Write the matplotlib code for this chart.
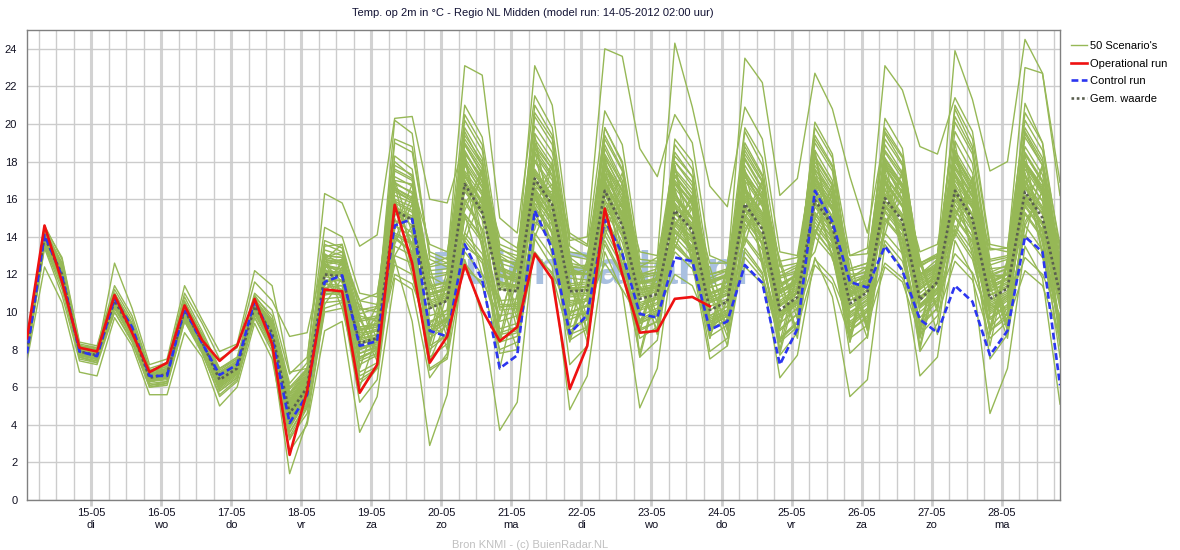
import numpy as np
import pandas as pd
import matplotlib
matplotlib.use('Agg')
import matplotlib.pyplot as plt
import matplotlib.dates as mdates
from matplotlib.lines import Line2D

plt.rcParams['font.family'] = ['Liberation Sans', 'DejaVu Sans']

# 6-hourly steps from the model run
times = pd.date_range('2012-05-14 02:00', periods=60, freq='6h')

day_labels = ['15-05\ndi', '16-05\nwo', '17-05\ndo', '18-05\nvr', '19-05\nza',
              '20-05\nzo', '21-05\nma', '22-05\ndi', '23-05\nwo', '24-05\ndo',
              '25-05\nvr', '26-05\nza', '27-05\nzo', '28-05\nma']
day_ticks = pd.date_range('2012-05-15', periods=14, freq='D')

# Operational run (stops after 10 days)
operational = [8.6, 14.6, 11.6, 8.1, 7.9, 10.9, 8.9, 6.8, 7.3, 10.35, 8.5, 7.4, 8.2, 10.7, 8.3, 2.4, 5.8,
               11.2, 11.1, 5.7, 7.2, 15.7, 12.6, 7.3, 8.7, 12.5, 10.1, 8.45, 9.2, 13.1, 11.75, 5.9, 8.2,
               15.5, 12.0, 8.9, 9.0, 10.7, 10.8, 10.3]

control = [7.8, 14.1, 11.9, 7.9, 7.65, 10.7, 9.2, 6.6, 6.6, 10.2, 8.35, 6.65, 7.2, 10.6, 8.6, 4.1, 5.6,
           11.6, 11.95, 8.2, 8.45, 14.6, 14.95, 9.0, 8.7, 13.6, 11.7, 7.0, 7.7, 15.4, 13.35, 8.85, 9.85,
           14.9, 13.1, 9.9, 9.7, 12.9, 12.7, 9.05, 9.5, 12.5, 11.55, 7.2, 9.1, 16.45, 14.8, 11.6, 11.3,
           13.5, 12.2, 9.6, 8.9, 11.4, 10.55, 7.7, 9.0, 14.0, 13.2, 6.1]

ens_mean = [8.0, 14.0, 12.0, 7.9, 7.7, 10.6, 9.0, 6.5, 6.7, 10.1, 8.4, 6.4, 7.0, 10.3, 8.9, 4.6, 6.0,
            12.0, 11.9, 8.35, 8.6, 15.4, 14.9, 10.2, 10.6, 16.8, 15.3, 11.2, 11.1, 17.1, 15.7, 11.1, 11.15,
            16.45, 14.6, 10.7, 10.95, 15.4, 14.35, 10.1, 10.55, 15.75, 14.4, 10.1, 10.8, 15.95, 14.6, 10.45,
            11.05, 16.05, 14.85, 10.65, 11.6, 16.45, 14.95, 10.7, 11.25, 16.4, 15.0, 10.95]

# 50 ensemble members
scenarios = [
    [8.1, 14.2, 12.3, 8.0, 7.8, 10.8, 9.2, 6.6, 6.9, 10.3, 8.6, 6.7, 7.2, 10.5, 9.0, 5.0, 6.3,
     12.4, 12.3, 8.9, 9.0, 16.0, 15.6, 10.8, 11.0, 17.5, 16.2, 11.6, 11.4, 18.0, 16.5, 11.8, 11.7,
     17.2, 15.5, 11.2, 11.4, 16.3, 15.0, 10.7, 11.2, 16.6, 15.3, 10.8, 11.4, 16.8, 15.4, 11.0, 11.6,
     17.0, 15.6, 11.3, 12.0, 17.3, 15.8, 11.2, 11.8, 17.2, 15.9, 11.5],
    [7.8, 13.8, 11.6, 7.7, 7.5, 10.3, 8.8, 6.3, 6.5, 9.8, 8.1, 6.0, 6.7, 10.0, 8.4, 3.8, 5.4,
     11.1, 11.0, 7.2, 7.7, 13.9, 13.2, 8.6, 9.3, 14.2, 13.1, 9.5, 9.8, 15.0, 13.6, 9.8, 10.0,
     14.1, 12.4, 9.4, 9.9, 13.5, 12.6, 9.1, 9.6, 13.2, 12.0, 8.6, 9.5, 14.0, 12.9, 9.3, 10.1,
     13.8, 12.7, 9.5, 10.6, 14.2, 12.8, 9.2, 10.2, 14.1, 12.9, 9.6],
    [8.3, 14.3, 12.6, 8.1, 7.9, 11.0, 9.4, 6.7, 7.0, 10.6, 8.8, 6.8, 7.4, 10.9, 9.6, 5.9, 6.9,
     13.6, 13.2, 9.8, 9.5, 18.3, 17.6, 11.9, 11.4, 20.5, 18.9, 12.3, 11.8, 21.0, 19.4, 12.9, 12.2,
     19.8, 17.9, 11.6, 11.5, 18.9, 17.6, 11.0, 11.3, 19.6, 17.8, 11.2, 11.6, 20.1, 18.4, 11.6, 11.8,
     20.3, 18.7, 12.0, 12.4, 20.8, 18.8, 11.8, 12.0, 21.1, 19.0, 12.4],
    [7.6, 13.5, 11.2, 7.6, 7.4, 10.0, 8.5, 6.0, 6.2, 9.5, 7.9, 5.5, 6.3, 9.7, 7.9, 1.4, 4.2,
     10.2, 10.5, 6.4, 7.0, 14.6, 14.0, 9.4, 10.1, 16.0, 14.4, 10.2, 10.5, 16.5, 15.1, 10.9, 11.0,
     17.9, 16.2, 11.5, 11.8, 16.8, 15.4, 10.6, 11.0, 14.9, 13.6, 9.4, 10.2, 15.2, 13.9, 9.9, 10.7,
     17.3, 16.0, 11.5, 12.1, 17.6, 16.1, 11.1, 11.6, 15.9, 14.6, 10.2],
    [8.2, 14.1, 12.2, 8.2, 8.0, 10.9, 9.3, 6.8, 7.1, 10.4, 8.7, 6.9, 7.5, 10.8, 9.8, 6.2, 7.3,
     16.3, 15.8, 13.5, 14.1, 20.3, 20.4, 16.0, 15.8, 19.0, 17.6, 13.0, 12.4, 18.4, 17.0, 12.2, 12.0,
     15.8, 14.0, 10.3, 10.7, 14.2, 13.4, 9.8, 10.3, 16.2, 14.9, 10.4, 11.0, 17.4, 16.0, 11.2, 11.6,
     15.4, 14.3, 10.3, 11.2, 15.1, 13.8, 10.1, 10.8, 17.8, 16.3, 11.4],
    [8.0, 14.0, 11.9, 7.9, 7.7, 10.5, 8.9, 6.4, 6.6, 10.0, 8.3, 6.2, 6.9, 10.2, 8.6, 4.0, 5.7,
     11.5, 11.2, 7.5, 8.0, 12.8, 9.5, 2.9, 5.6, 13.5, 12.8, 8.8, 9.0, 14.8, 13.9, 9.9, 10.4,
     16.9, 15.3, 11.0, 11.2, 17.3, 16.1, 11.3, 11.6, 15.2, 14.0, 10.0, 10.5, 14.4, 13.1, 9.0, 9.8,
     16.5, 15.2, 10.8, 11.6, 18.0, 16.4, 11.9, 12.0, 16.7, 15.4, 11.2],
    [8.1, 14.2, 12.1, 8.0, 7.8, 10.7, 9.1, 6.6, 6.8, 10.2, 8.5, 6.5, 7.1, 10.4, 9.0, 4.8, 6.2,
     12.8, 12.6, 9.0, 9.4, 17.2, 16.7, 11.8, 12.0, 19.4, 18.0, 13.6, 13.2, 19.9, 18.5, 13.8, 14.0,
     24.0, 23.6, 18.7, 17.2, 20.5, 19.0, 13.0, 12.6, 18.1, 16.5, 11.5, 11.9, 17.0, 15.6, 11.0, 11.5,
     18.2, 16.8, 12.0, 12.6, 17.4, 15.9, 11.4, 11.8, 18.8, 17.3, 12.6],
    [7.9, 13.9, 12.0, 7.8, 7.6, 10.6, 9.0, 6.5, 6.7, 10.1, 8.4, 6.4, 7.0, 10.2, 8.8, 4.5, 5.9,
     12.1, 12.0, 8.3, 8.5, 16.2, 15.8, 10.9, 11.2, 17.8, 16.4, 11.9, 11.7, 18.5, 17.2, 12.0, 12.3,
     19.2, 17.5, 12.4, 12.9, 24.3, 20.9, 16.7, 15.6, 20.9, 19.2, 13.2, 13.0, 18.6, 17.0, 12.0, 12.1,
     17.0, 15.7, 11.2, 12.0, 19.1, 17.4, 12.3, 12.4, 17.6, 16.2, 11.8],
    [8.2, 14.4, 12.4, 8.1, 7.9, 10.8, 9.2, 6.7, 6.9, 10.5, 8.7, 6.7, 7.3, 10.7, 9.3, 5.3, 6.6,
     13.0, 12.9, 9.6, 9.8, 16.8, 16.4, 11.3, 11.6, 18.9, 17.4, 12.6, 12.3, 19.5, 18.1, 12.6, 12.4,
     18.4, 16.8, 11.9, 12.1, 17.6, 16.5, 11.8, 12.2, 23.5, 22.2, 16.2, 17.1, 22.7, 20.8, 17.2, 14.2,
     19.5, 17.9, 12.5, 12.9, 18.4, 16.8, 11.9, 12.3, 19.8, 18.2, 13.0],
    [8.0, 13.9, 12.1, 7.9, 7.7, 10.6, 9.1, 6.6, 6.8, 10.2, 8.5, 6.6, 7.2, 10.4, 9.1, 5.0, 6.4,
     12.5, 12.3, 8.8, 9.1, 15.9, 15.4, 10.6, 11.0, 17.3, 15.8, 11.6, 11.4, 17.6, 16.2, 11.5, 11.6,
     17.0, 15.2, 11.1, 11.4, 16.1, 15.0, 10.6, 11.0, 17.5, 16.0, 11.3, 12.0, 19.8, 18.2, 13.0, 13.4,
     23.1, 21.8, 18.8, 18.4, 21.4, 19.6, 13.6, 13.4, 20.2, 18.6, 13.6],
    [8.1, 14.1, 12.2, 8.0, 7.8, 10.7, 9.1, 6.5, 6.7, 10.1, 8.4, 6.5, 7.1, 10.3, 8.9, 4.7, 6.1,
     12.2, 12.1, 8.6, 8.8, 15.6, 15.1, 10.4, 10.8, 17.0, 15.5, 11.4, 11.3, 17.3, 15.9, 11.3, 11.3,
     16.6, 14.8, 10.8, 11.1, 15.6, 14.5, 10.3, 10.7, 16.0, 14.7, 10.3, 11.0, 16.8, 15.4, 10.9, 11.4,
     18.6, 17.3, 12.4, 13.0, 23.9, 21.3, 17.5, 18.0, 24.5, 22.7, 16.2],
    [7.7, 13.6, 11.5, 7.5, 7.3, 10.2, 8.6, 6.1, 6.3, 9.6, 8.0, 5.8, 6.5, 9.9, 8.2, 3.2, 4.9,
     10.5, 10.6, 5.2, 6.4, 13.5, 13.0, 7.0, 7.6, 15.2, 13.9, 7.8, 8.0, 15.8, 14.3, 7.2, 8.2,
     15.1, 13.3, 7.6, 8.5, 14.3, 13.2, 7.9, 8.6, 14.7, 13.3, 7.7, 8.9, 15.0, 13.7, 7.8, 8.7,
     14.9, 13.8, 7.9, 9.4, 15.5, 14.0, 7.5, 8.8, 15.3, 14.0, 7.6],
    [7.9, 13.8, 11.8, 7.7, 7.5, 10.4, 8.8, 6.3, 6.5, 9.9, 8.2, 6.1, 6.8, 10.1, 8.5, 3.9, 5.3,
     11.0, 10.9, 6.8, 7.3, 14.0, 13.1, 6.9, 7.5, 12.8, 9.8, 3.7, 5.2, 13.9, 12.4, 4.8, 6.6,
     13.2, 11.1, 4.9, 7.0, 13.8, 12.6, 7.5, 8.2, 13.4, 12.1, 6.5, 7.7, 12.9, 10.8, 5.5, 6.4,
     13.6, 12.3, 6.6, 7.6, 13.8, 12.0, 4.6, 7.0, 13.5, 11.8, 5.1],
    [8.0, 14.0, 11.7, 7.8, 7.6, 10.4, 8.8, 6.4, 6.5, 9.9, 8.2, 6.2, 6.8, 10.0, 8.6, 4.3, 5.8,
     11.0, 12.4, 9.2, 7.4, 16.8, 13.0, 8.4, 11.8, 14.2, 17.5, 12.9, 9.0, 18.6, 14.0, 9.2, 12.6,
     14.0, 16.9, 12.2, 9.4, 17.8, 12.6, 8.6, 11.9, 13.6, 17.0, 11.8, 8.9, 18.4, 13.8, 8.4, 12.5,
     14.1, 17.6, 12.6, 10.0, 19.0, 14.2, 9.0, 12.8, 13.9, 17.8, 12.4],
    [8.3, 14.4, 12.5, 8.2, 8.0, 10.9, 9.3, 6.7, 6.9, 10.5, 8.8, 6.8, 7.3, 10.7, 9.4, 5.5, 6.8,
     13.3, 13.0, 9.5, 9.7, 19.0, 18.5, 13.2, 12.8, 23.1, 22.6, 15.0, 14.2, 21.5, 19.8, 13.5, 12.9,
     18.9, 17.0, 12.0, 12.1, 17.0, 15.8, 11.0, 11.4, 17.2, 15.7, 11.1, 11.7, 18.2, 16.7, 11.7, 12.0,
     17.9, 16.6, 11.8, 12.4, 18.1, 16.5, 11.6, 12.0, 18.4, 16.9, 12.1],
    [8.1, 14.3, 12.4, 8.1, 7.9, 10.8, 9.2, 6.6, 6.8, 10.4, 8.6, 6.6, 7.2, 10.6, 9.2, 5.2, 6.5,
     12.9, 12.7, 9.2, 9.4, 17.5, 17.0, 12.0, 12.1, 20.2, 18.6, 13.1, 12.7, 23.1, 21.0, 14.0, 13.5,
     20.7, 18.9, 12.8, 12.7, 18.5, 17.2, 11.7, 12.0, 19.0, 17.3, 11.9, 12.2, 19.4, 17.8, 12.2, 12.4,
     19.8, 18.3, 12.6, 13.0, 20.1, 18.4, 12.5, 12.8, 19.6, 18.0, 12.7],
    [7.8, 13.7, 11.6, 7.7, 7.5, 10.3, 8.7, 6.3, 6.4, 9.8, 8.1, 6.0, 6.7, 9.9, 8.4, 3.6, 5.2,
     10.4, 11.8, 6.0, 8.8, 13.0, 14.6, 7.4, 9.6, 15.2, 12.0, 10.8, 8.0, 14.0, 16.2, 8.6, 10.9,
     17.2, 12.4, 7.8, 11.5, 13.4, 15.6, 11.2, 8.7, 16.5, 12.8, 8.0, 12.0, 13.2, 16.4, 11.6, 9.2,
     17.0, 13.0, 8.2, 12.4, 14.0, 16.6, 12.0, 9.0, 17.4, 13.2, 8.3],
    [8.0, 14.1, 12.0, 7.9, 7.7, 10.6, 9.0, 6.5, 6.7, 10.0, 8.4, 6.4, 7.0, 10.3, 8.9, 4.6, 6.0,
     13.0, 10.6, 9.8, 7.6, 14.4, 16.8, 11.8, 9.4, 18.2, 13.4, 9.6, 12.9, 15.4, 18.0, 13.0, 9.6,
     17.8, 13.0, 9.0, 12.6, 14.6, 16.0, 11.6, 9.2, 17.0, 12.4, 9.2, 12.4, 14.2, 16.4, 12.0, 9.0,
     17.6, 13.2, 8.8, 12.8, 15.0, 17.0, 12.2, 9.8, 18.0, 13.6, 9.0],
    [8.2, 14.2, 12.3, 8.0, 7.8, 10.9, 9.2, 6.6, 6.8, 10.3, 8.5, 6.6, 7.2, 10.6, 9.3, 5.6, 6.9,
     13.8, 13.4, 10.2, 10.0, 20.2, 19.5, 12.8, 12.4, 18.5, 16.9, 11.9, 11.6, 16.3, 14.9, 10.5, 10.7,
     14.4, 12.6, 9.5, 10.0, 13.2, 12.3, 9.3, 9.8, 13.9, 12.6, 9.0, 9.9, 14.8, 13.5, 9.7, 10.4,
     15.6, 14.4, 10.3, 11.1, 14.6, 13.3, 9.9, 10.6, 15.2, 13.9, 10.4],
    [7.9, 13.9, 11.9, 7.8, 7.6, 10.5, 8.9, 6.4, 6.6, 10.0, 8.3, 6.3, 6.9, 10.2, 8.7, 4.2, 5.6,
     11.3, 11.4, 7.6, 8.0, 12.5, 12.0, 8.0, 8.8, 13.2, 12.0, 8.9, 9.2, 15.5, 14.2, 10.3, 10.6,
     17.4, 15.6, 11.3, 11.5, 18.0, 16.7, 11.6, 11.9, 18.6, 17.0, 11.8, 12.1, 18.3, 16.8, 11.5, 11.9,
     17.2, 15.9, 11.2, 11.9, 17.8, 16.2, 11.4, 11.8, 18.5, 17.0, 12.0],
    [8.4, 14.6, 12.8, 8.3, 8.1, 11.2, 9.6, 6.9, 7.2, 10.8, 9.0, 7.0, 7.6, 11.0, 10.1, 6.7, 7.6,
     14.5, 14.0, 11.0, 10.8, 18.0, 17.2, 12.2, 12.3, 17.9, 16.3, 11.5, 11.3, 16.8, 15.5, 11.2, 11.4,
     17.6, 15.8, 11.2, 11.3, 16.6, 15.4, 10.8, 11.1, 15.1, 13.9, 9.8, 10.6, 16.4, 15.0, 10.8, 11.3,
     16.9, 15.6, 11.0, 11.8, 17.0, 15.5, 11.1, 11.5, 16.0, 14.7, 10.6],
    [8.6, 14.5, 12.9, 8.4, 8.2, 11.4, 9.8, 7.0, 7.3, 11.0, 9.4, 7.5, 8.1, 11.6, 10.6, 8.7, 8.9,
     13.1, 12.5, 10.6, 11.0, 16.5, 15.9, 12.5, 12.9, 16.4, 15.2, 12.8, 12.6, 16.0, 15.0, 12.4, 12.5,
     15.6, 14.3, 12.0, 12.3, 14.8, 14.0, 11.6, 12.0, 15.5, 14.4, 11.4, 12.0, 15.3, 14.2, 11.8, 12.4,
     15.7, 14.7, 12.0, 12.8, 16.0, 14.9, 12.1, 12.5, 15.8, 14.8, 12.2],
    [8.1, 14.0, 12.1, 8.0, 7.8, 12.6, 10.2, 7.2, 7.5, 11.4, 9.6, 7.9, 8.3, 12.2, 11.4, 6.8, 7.0,
     12.6, 11.6, 7.8, 8.1, 14.2, 13.7, 9.0, 9.6, 15.8, 14.4, 10.3, 10.3, 16.2, 14.8, 10.6, 10.7,
     16.0, 14.1, 10.4, 10.7, 15.0, 13.9, 9.8, 10.3, 15.4, 14.1, 9.9, 10.6, 15.6, 14.3, 10.2, 10.8,
     15.7, 14.5, 10.4, 11.3, 16.2, 14.7, 10.5, 11.0, 16.1, 14.7, 10.7],
    [7.7, 13.4, 10.9, 7.4, 7.2, 10.0, 8.4, 6.0, 6.1, 9.5, 7.8, 5.6, 6.4, 9.7, 8.1, 3.4, 5.0,
     10.9, 11.1, 8.0, 8.4, 16.6, 16.0, 11.0, 11.3, 18.2, 16.7, 12.0, 11.8, 18.7, 17.3, 12.1, 12.0,
     17.8, 16.0, 11.5, 11.7, 16.9, 15.7, 10.9, 11.3, 17.3, 15.8, 11.0, 11.6, 17.6, 16.1, 11.3, 11.7,
     17.7, 16.4, 11.6, 12.2, 18.3, 16.6, 11.5, 12.0, 18.0, 16.5, 11.9],
    [7.4, 12.4, 10.5, 6.8, 6.6, 9.7, 8.2, 5.6, 5.6, 8.9, 7.6, 5.0, 6.0, 9.4, 7.5, 2.6, 4.0,
     9.0, 9.5, 3.6, 5.5, 11.8, 11.2, 6.5, 7.8, 14.0, 12.8, 8.4, 8.7, 15.2, 13.8, 9.2, 9.6,
     14.7, 12.9, 9.0, 9.5, 14.6, 13.5, 9.5, 9.9, 14.0, 12.8, 8.5, 9.4, 14.3, 13.1, 9.2, 10.0,
     14.2, 13.1, 9.4, 10.2, 14.4, 13.0, 9.0, 9.7, 14.6, 13.3, 9.5],
    [8.2, 14.2, 12.2, 8.1, 7.9, 10.7, 9.1, 6.7, 6.9, 10.2, 8.6, 6.7, 7.3, 10.4, 9.2, 5.4, 6.7,
     12.8, 13.6, 7.0, 9.8, 16.0, 12.2, 12.4, 9.0, 13.8, 16.2, 8.6, 12.6, 19.0, 15.0, 12.6, 8.8,
     15.0, 15.8, 9.0, 12.0, 16.6, 12.8, 12.4, 9.6, 14.4, 16.0, 8.4, 12.2, 17.6, 13.6, 12.8, 9.2,
     14.8, 16.0, 9.0, 13.0, 17.4, 14.2, 12.6, 9.4, 14.8, 16.4, 9.0],
    [8.0, 14.2, 12.4, 7.9, 7.7, 10.8, 9.0, 6.4, 6.6, 10.3, 8.4, 6.3, 7.0, 10.5, 8.9, 4.4, 5.9,
     12.6, 12.8, 8.0, 8.3, 17.8, 17.3, 11.0, 11.2, 19.8, 18.2, 12.2, 11.9, 20.4, 18.9, 12.3, 12.0,
     19.4, 17.6, 11.6, 11.8, 18.3, 17.2, 11.0, 11.4, 18.8, 17.2, 11.1, 11.8, 19.0, 17.5, 11.5, 12.0,
     19.2, 17.8, 11.7, 12.3, 19.6, 17.9, 11.6, 12.1, 19.3, 17.8, 12.0],
    [7.9, 13.9, 11.8, 7.8, 7.6, 10.4, 8.8, 6.3, 6.5, 9.9, 8.2, 6.2, 6.8, 10.1, 8.6, 4.1, 5.6,
     11.6, 11.7, 8.1, 8.4, 14.1, 13.6, 9.5, 9.9, 12.6, 11.4, 8.0, 8.4, 13.2, 12.0, 8.5, 9.1,
     16.3, 14.6, 10.9, 11.1, 19.2, 18.0, 12.0, 12.2, 19.8, 18.2, 12.4, 12.6, 17.2, 15.8, 11.0, 11.5,
     15.0, 13.9, 10.0, 10.8, 16.6, 15.1, 10.9, 11.3, 17.3, 15.9, 11.3],
    [8.1, 14.1, 12.0, 8.0, 7.8, 10.6, 9.0, 6.6, 6.8, 10.1, 8.5, 6.5, 7.1, 10.3, 8.9, 4.9, 6.2,
     12.2, 12.0, 8.5, 8.8, 16.4, 15.9, 10.9, 11.2, 18.9, 17.3, 12.4, 12.0, 17.4, 16.0, 11.2, 11.2,
     13.8, 12.0, 9.4, 9.8, 14.0, 13.0, 9.5, 10.0, 16.1, 14.8, 10.3, 11.1, 17.1, 15.6, 10.9, 11.4,
     16.2, 15.0, 10.7, 11.6, 15.4, 14.0, 10.3, 10.9, 16.9, 15.5, 11.1],
    [7.8, 13.8, 11.7, 7.7, 7.5, 10.5, 8.9, 6.4, 6.6, 9.9, 8.3, 6.2, 6.9, 10.1, 8.7, 4.4, 5.9,
     11.0, 12.8, 10.6, 7.8, 13.8, 16.2, 8.2, 11.6, 18.4, 14.0, 9.6, 12.8, 14.4, 17.8, 12.8, 9.0,
     18.2, 14.6, 9.4, 12.0, 13.8, 15.8, 11.8, 9.0, 17.6, 13.4, 9.4, 12.6, 14.0, 16.8, 12.0, 9.4,
     18.2, 13.4, 9.2, 12.8, 14.2, 17.2, 12.2, 9.2, 18.4, 13.8, 9.6],
    [8.3, 14.3, 12.3, 8.1, 7.9, 10.8, 9.3, 6.7, 6.9, 10.4, 8.7, 6.6, 7.2, 10.6, 9.2, 5.1, 6.5,
     12.7, 12.5, 9.1, 9.2, 16.9, 16.3, 11.4, 11.6, 18.6, 17.0, 12.3, 12.0, 19.2, 17.8, 12.4, 12.3,
     18.3, 16.4, 11.8, 12.0, 17.2, 16.0, 11.3, 11.6, 17.8, 16.3, 11.5, 12.0, 18.0, 16.5, 11.8, 12.2,
     18.1, 16.8, 12.0, 12.5, 18.6, 17.0, 12.0, 12.3, 18.4, 16.9, 12.3],
    [7.8, 13.7, 11.5, 7.7, 7.5, 10.3, 8.8, 6.4, 6.5, 9.7, 8.2, 6.1, 6.8, 9.9, 8.5, 4.0, 5.6,
     10.7, 10.8, 7.8, 8.2, 12.0, 11.5, 9.0, 9.6, 12.3, 11.6, 9.8, 10.0, 13.0, 12.1, 10.0, 10.3,
     12.6, 11.2, 9.6, 10.1, 12.0, 11.4, 9.2, 9.8, 12.4, 11.5, 9.1, 9.9, 12.8, 11.8, 9.5, 10.2,
     12.6, 11.8, 9.7, 10.7, 13.1, 12.1, 9.6, 10.3, 12.9, 12.0, 9.8],
    [8.2, 14.0, 12.1, 8.2, 8.1, 10.6, 9.3, 6.9, 7.1, 10.1, 8.8, 7.0, 7.5, 10.3, 9.5, 6.0, 7.0,
     11.9, 12.2, 9.9, 10.2, 15.2, 15.0, 12.4, 12.6, 16.5, 15.6, 13.3, 13.0, 16.9, 16.0, 13.2, 13.0,
     16.2, 14.9, 12.6, 12.6, 15.2, 14.5, 12.0, 12.3, 15.5, 14.6, 12.1, 12.5, 15.7, 14.8, 12.3, 12.6,
     15.9, 15.0, 12.6, 13.1, 16.3, 15.2, 12.7, 12.9, 16.2, 15.3, 12.9],
    [7.9, 14.0, 12.0, 7.6, 7.3, 10.6, 8.8, 6.1, 6.2, 10.1, 8.2, 5.8, 6.5, 10.3, 8.5, 3.6, 5.1,
     11.9, 11.6, 6.6, 7.1, 15.3, 14.6, 8.2, 8.8, 16.6, 14.9, 9.1, 9.4, 17.0, 15.4, 9.0, 9.6,
     16.3, 14.3, 9.1, 9.5, 15.3, 14.1, 8.7, 9.3, 15.6, 14.1, 8.6, 9.4, 15.8, 14.3, 9.0, 9.7,
     15.9, 14.6, 9.2, 10.2, 16.3, 14.7, 9.0, 9.9, 16.2, 14.7, 9.3],
    [8.0, 14.3, 12.5, 7.8, 7.6, 10.9, 9.1, 6.3, 6.5, 10.5, 8.5, 6.0, 6.7, 10.8, 9.0, 3.9, 5.5,
     13.0, 12.9, 7.4, 7.8, 17.6, 17.1, 9.8, 10.1, 19.6, 17.8, 10.4, 10.4, 16.4, 14.8, 9.6, 10.0,
     18.7, 16.8, 10.2, 10.5, 16.2, 15.0, 9.2, 9.8, 18.2, 16.6, 9.8, 10.5, 16.6, 15.1, 9.4, 10.1,
     18.9, 17.4, 10.4, 11.2, 17.2, 15.6, 9.7, 10.4, 19.5, 17.8, 10.6],
    [8.1, 13.9, 11.9, 8.0, 7.8, 10.5, 9.0, 6.7, 6.8, 9.9, 8.5, 6.8, 7.3, 10.0, 9.1, 5.7, 6.6,
     11.6, 10.8, 8.4, 10.4, 15.0, 12.0, 7.8, 11.0, 17.2, 15.8, 13.0, 10.0, 16.2, 13.6, 8.4, 11.6,
     18.0, 15.0, 11.4, 9.0, 15.6, 13.2, 8.6, 12.2, 17.2, 16.2, 12.8, 10.0, 16.0, 13.0, 8.4, 12.0,
     17.8, 16.0, 12.8, 10.2, 16.4, 13.4, 8.2, 12.6, 18.0, 16.4, 12.6],
    [8.0, 14.1, 12.1, 7.9, 7.7, 10.6, 9.0, 6.5, 6.7, 10.1, 8.4, 6.4, 7.0, 10.3, 8.9, 4.6, 6.0,
     12.0, 11.9, 8.3, 8.6, 15.4, 14.9, 10.2, 10.6, 16.8, 15.3, 11.2, 11.1, 17.1, 15.7, 11.1, 11.2,
     17.8, 16.0, 11.6, 11.8, 17.5, 16.3, 11.5, 11.9, 18.4, 16.9, 11.9, 12.4, 19.2, 17.7, 12.3, 12.6,
     19.6, 18.2, 12.6, 13.0, 20.4, 18.6, 12.8, 13.0, 20.6, 19.0, 13.3],
    [8.0, 14.0, 12.0, 7.9, 7.7, 10.6, 9.0, 6.5, 6.7, 10.1, 8.4, 6.4, 7.0, 10.3, 8.9, 4.6, 6.0,
     12.1, 12.0, 8.4, 8.7, 15.5, 15.0, 10.3, 10.7, 16.9, 15.4, 11.3, 11.2, 16.6, 15.2, 10.8, 10.9,
     15.0, 13.2, 9.8, 10.2, 13.6, 12.7, 9.0, 9.6, 12.9, 11.8, 8.4, 9.2, 12.5, 11.5, 8.6, 9.3,
     12.4, 11.6, 8.8, 9.8, 12.7, 11.7, 8.6, 9.5, 12.2, 11.4, 8.7],
    [8.2, 14.2, 12.2, 8.0, 7.9, 10.8, 9.2, 6.6, 6.8, 10.3, 8.6, 6.5, 7.2, 10.5, 9.1, 5.0, 6.4,
     12.4, 12.2, 8.7, 9.0, 15.8, 15.3, 10.5, 10.9, 17.2, 15.7, 11.5, 11.4, 17.5, 16.1, 11.4, 11.5,
     16.8, 15.0, 11.0, 11.3, 16.0, 14.9, 10.5, 10.9, 16.5, 15.1, 10.6, 11.3, 17.2, 15.8, 11.1, 11.6,
     18.0, 16.7, 11.7, 12.3, 21.0, 19.2, 13.4, 13.2, 23.0, 22.7, 16.9],
    [7.9, 13.9, 11.8, 7.8, 7.6, 10.5, 8.9, 6.4, 6.6, 10.0, 8.3, 6.3, 6.9, 10.2, 8.8, 4.5, 5.9,
     11.7, 11.7, 8.1, 8.4, 14.9, 14.2, 7.6, 8.3, 17.4, 15.9, 10.6, 10.7, 18.1, 16.7, 11.0, 11.0,
     16.9, 15.1, 10.5, 10.8, 15.8, 14.7, 10.1, 10.6, 15.9, 14.6, 10.0, 10.7, 16.1, 14.7, 10.3, 10.9,
     16.3, 15.1, 10.6, 11.5, 16.8, 15.2, 10.6, 11.1, 16.6, 15.2, 10.9],
    [8.3, 14.4, 12.6, 8.2, 8.0, 11.0, 9.4, 6.8, 7.0, 10.5, 8.8, 6.8, 7.4, 10.7, 9.5, 5.7, 7.0,
     13.5, 13.6, 10.1, 10.3, 19.2, 18.8, 13.0, 12.6, 21.0, 19.3, 13.4, 12.8, 19.0, 17.6, 12.0, 12.0,
     17.3, 15.6, 11.2, 11.4, 15.7, 14.6, 10.5, 10.9, 16.4, 15.0, 10.5, 11.2, 17.8, 16.3, 11.3, 11.7,
     18.5, 17.1, 11.9, 12.4, 17.7, 16.2, 11.3, 11.7, 18.0, 16.6, 11.7],
    [7.7, 13.6, 11.4, 7.6, 7.4, 10.2, 8.7, 6.2, 6.3, 9.7, 8.1, 5.9, 6.6, 9.9, 8.3, 3.3, 4.6,
     10.0, 10.2, 6.2, 7.0, 13.0, 12.6, 8.8, 9.5, 15.0, 13.7, 10.1, 10.2, 16.0, 14.6, 10.4, 10.6,
     15.5, 13.7, 10.1, 10.4, 14.7, 13.7, 9.7, 10.1, 15.0, 13.7, 9.7, 10.4, 15.2, 13.9, 10.0, 10.6,
     15.3, 14.1, 10.2, 11.0, 15.7, 14.3, 10.2, 10.8, 15.6, 14.3, 10.5],
    [8.1, 14.2, 12.2, 8.0, 7.8, 10.7, 9.1, 6.6, 6.8, 10.2, 8.5, 6.5, 7.1, 10.4, 9.0, 4.8, 6.2,
     12.6, 11.0, 10.4, 8.6, 17.0, 14.2, 8.8, 12.2, 15.4, 17.6, 13.0, 9.6, 19.4, 14.6, 9.8, 12.8,
     15.2, 17.4, 12.4, 9.8, 17.8, 13.8, 9.0, 12.4, 15.0, 17.0, 12.6, 9.6, 18.6, 14.0, 8.8, 12.6,
     15.4, 17.4, 12.8, 10.2, 18.6, 14.4, 9.2, 12.8, 15.6, 17.8, 12.2],
    [7.9, 13.9, 11.9, 7.8, 7.6, 10.5, 8.9, 6.4, 6.6, 10.0, 8.3, 6.3, 6.9, 10.2, 8.8, 4.4, 5.8,
     11.4, 12.6, 5.8, 7.0, 13.6, 15.8, 10.8, 8.0, 15.2, 14.0, 7.0, 11.0, 16.6, 13.0, 11.6, 8.4,
     14.4, 16.0, 7.6, 11.2, 15.8, 12.6, 11.0, 8.2, 14.2, 16.2, 7.8, 11.4, 16.6, 12.8, 11.2, 8.6,
     14.6, 16.6, 8.0, 12.0, 16.8, 13.0, 11.4, 8.6, 14.6, 16.4, 8.2],
    [8.0, 14.0, 12.0, 7.9, 7.7, 10.6, 9.0, 6.5, 6.7, 10.1, 8.4, 6.4, 7.0, 10.3, 8.9, 4.6, 6.0,
     12.5, 12.7, 9.2, 9.3, 14.0, 13.2, 9.0, 9.7, 18.0, 16.6, 12.0, 11.7, 15.6, 14.2, 10.0, 10.3,
     18.2, 16.5, 11.6, 11.7, 14.4, 13.4, 9.6, 10.1, 17.2, 15.8, 11.0, 11.6, 14.6, 13.4, 9.8, 10.5,
     17.6, 16.3, 11.4, 12.1, 15.0, 13.7, 10.0, 10.7, 17.9, 16.4, 11.6],
    [8.1, 14.1, 12.1, 8.0, 7.8, 10.7, 9.1, 6.6, 6.8, 10.2, 8.5, 6.5, 7.1, 10.4, 9.0, 4.7, 6.1,
     12.6, 12.0, 9.6, 8.0, 15.8, 13.6, 11.6, 8.6, 17.0, 13.4, 8.4, 11.8, 16.6, 16.4, 8.6, 11.6,
     16.8, 12.4, 12.0, 8.8, 14.6, 16.2, 9.0, 12.4, 16.8, 12.6, 11.8, 8.6, 15.0, 16.6, 8.6, 12.4,
     17.2, 13.2, 12.2, 8.8, 15.2, 16.8, 8.8, 12.6, 17.4, 13.0, 12.4],
    [7.9, 14.0, 11.9, 7.9, 7.7, 10.5, 8.9, 6.5, 6.7, 10.0, 8.4, 6.4, 7.0, 10.2, 8.8, 4.5, 5.9,
     12.4, 10.2, 8.6, 9.8, 16.0, 13.4, 9.4, 8.6, 15.8, 17.0, 11.2, 12.4, 16.0, 16.8, 11.4, 9.6,
     15.8, 15.6, 10.0, 12.0, 16.4, 14.4, 8.8, 10.6, 15.4, 16.4, 11.2, 9.0, 16.8, 14.2, 10.8, 12.2,
     16.6, 13.8, 8.6, 12.0, 16.4, 15.6, 10.4, 9.8, 16.8, 14.2, 8.8],
    [8.2, 14.2, 12.2, 8.1, 7.9, 10.8, 9.2, 6.7, 6.9, 10.3, 8.6, 6.6, 7.2, 10.5, 9.2, 5.2, 6.5,
     12.9, 13.2, 10.6, 10.4, 17.0, 16.8, 13.6, 13.2, 18.4, 17.2, 14.0, 13.4, 18.8, 17.6, 14.2, 13.6,
     17.9, 16.4, 13.2, 13.0, 16.8, 15.9, 12.6, 12.6, 17.4, 16.1, 12.7, 12.9, 17.6, 16.3, 13.0, 13.1,
     17.8, 16.6, 13.2, 13.6, 18.2, 16.8, 13.3, 13.4, 18.0, 16.7, 13.5],
    [7.8, 13.8, 11.7, 7.7, 7.5, 10.4, 8.8, 6.3, 6.5, 9.9, 8.2, 6.2, 6.8, 10.1, 8.6, 4.2, 5.7,
     11.5, 11.4, 7.6, 8.0, 14.6, 14.0, 9.2, 9.7, 13.8, 12.6, 8.6, 8.9, 14.2, 12.9, 8.8, 9.2,
     13.6, 11.9, 8.6, 9.2, 14.8, 13.8, 9.4, 9.9, 16.6, 15.2, 10.4, 11.0, 16.9, 15.5, 10.6, 11.2,
     16.8, 15.6, 10.8, 11.6, 17.2, 15.7, 10.9, 11.4, 17.0, 15.6, 11.2],
    [8.2, 14.3, 12.4, 8.1, 7.9, 10.9, 9.3, 6.7, 6.9, 10.4, 8.7, 6.7, 7.3, 10.6, 9.3, 5.3, 6.6,
     12.8, 12.6, 9.0, 9.2, 16.6, 16.1, 11.2, 11.4, 19.2, 17.8, 12.8, 12.5, 20.6, 19.2, 13.0, 12.8,
     19.8, 18.0, 12.4, 12.4, 18.0, 16.9, 11.6, 11.9, 17.0, 15.6, 11.0, 11.5, 16.2, 14.8, 10.6, 11.1,
     15.6, 14.4, 10.3, 11.0, 15.9, 14.5, 10.4, 10.9, 15.7, 14.4, 10.6],
]

fig = plt.figure(figsize=(11.8, 5.5), dpi=100)
ax = fig.add_axes([27 / 1180, 50 / 550, 1033 / 1180, 470 / 550])

# watermark behind the lines
ax.text(0.546, 0.485, 'BuienRadar.nl', transform=ax.transAxes, ha='center', va='center',
        fontsize=34, fontweight='bold', color='#a9c0e0', zorder=1)

green = '#96b856'
for s in scenarios:
    ax.plot(times[:len(s)], s, color=green, lw=1.0, zorder=2)
ax.plot(times, ens_mean, color='#5a5f50', lw=1.9, ls=(0, (1, 1)), zorder=3)
ax.plot(times, control, color='#2b35f0', lw=1.9, ls=(0, (2.6, 1.3)), zorder=4)
ax.plot(times[:len(operational)], operational, color='#ee1111', lw=1.9, zorder=5)

ax.set_xlim(times[0], times[-1])
ax.set_ylim(0, 25)
ax.set_yticks(range(0, 25, 2))
ax.set_xticks(day_ticks)
ax.set_xticklabels(day_labels)
ax.xaxis.set_minor_locator(mdates.HourLocator(byhour=[0, 6, 12, 18]))

ax.grid(True, which='minor', axis='x', color='#cccccc', lw=1, zorder=0)
ax.grid(True, which='major', axis='x', color='#d2d2d2', lw=2.2, zorder=0)
ax.grid(True, which='major', axis='y', color='#cccccc', lw=1, zorder=0)
ax.set_axisbelow(True)

ax.tick_params(axis='y', length=0, pad=7, labelsize=8, labelcolor='#111122')
ax.tick_params(axis='x', which='major', length=4, width=2, color='#cccccc', pad=2,
               labelsize=8, labelcolor='#111122')
ax.tick_params(axis='x', which='minor', length=0)
for sp in ax.spines.values():
    sp.set_color('#808080')
    sp.set_linewidth(1)

fig.text(533 / 1180, 1 - 13 / 550, 'Temp. op 2m in °C - Regio NL Midden (model run: 14-05-2012 02:00 uur)',
         ha='center', va='center', fontsize=8, color='#111133')
fig.text(530 / 1180, 1 - 545 / 550, 'Bron KNMI - (c) BuienRadar.NL', ha='center', va='center',
         fontsize=8, color='#c0c0c0')

handles = [Line2D([], [], color=green, lw=1.0),
           Line2D([], [], color='#ee1111', lw=1.9),
           Line2D([], [], color='#2b35f0', lw=1.9, ls=(0, (2.6, 1.3))),
           Line2D([], [], color='#5a5f50', lw=1.9, ls=(0, (1, 1)))]
labels = ["50 Scenario's", 'Operational run', 'Control run', 'Gem. waarde']
fig.legend(handles, labels, loc='upper left', bbox_to_anchor=(1071 / 1180, 1 - 41 / 550),
           frameon=False, fontsize=8, handlelength=1.45, handletextpad=0.3,
           borderaxespad=0, borderpad=0, labelspacing=0.68)

fig.savefig('out.png', dpi=100)
